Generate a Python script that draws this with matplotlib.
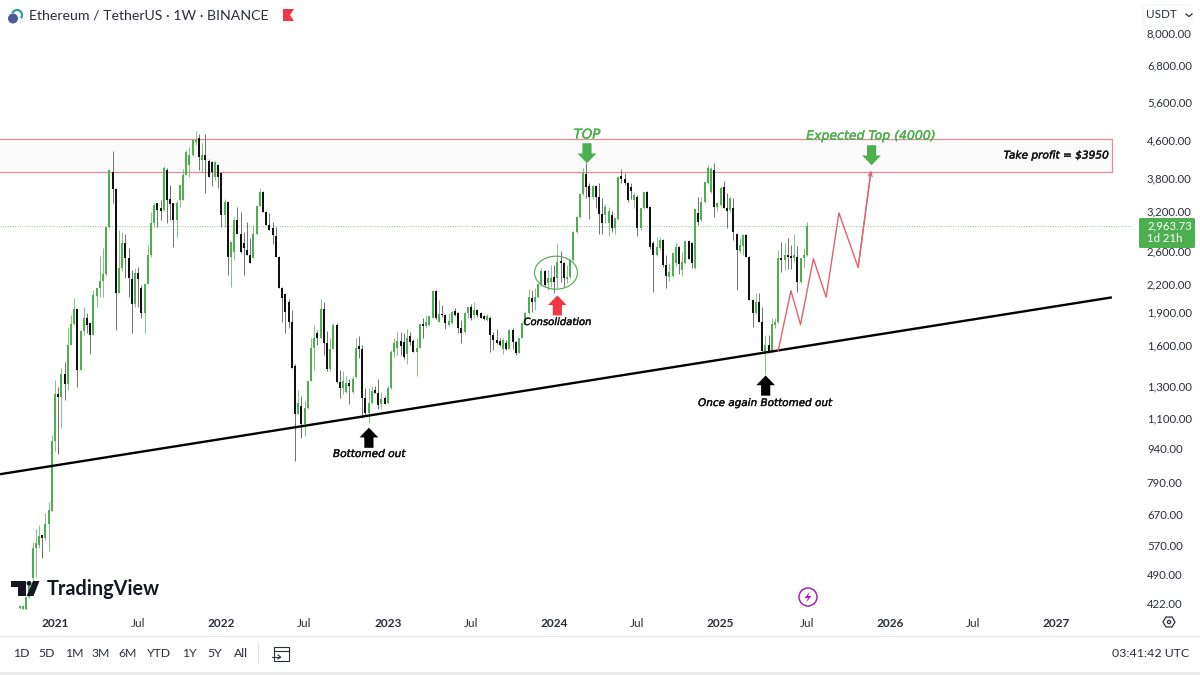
import matplotlib
matplotlib.use('Agg')
import matplotlib.pyplot as plt
import matplotlib.patheffects as pe
from matplotlib.patches import Rectangle, Circle, Ellipse, Polygon, FancyBboxPatch, Arc
from matplotlib.ticker import NullLocator

UI_FONT = 'Lato'
GREEN = '#4caf50'
RED = '#f23645'
TEXT = '#2a2e39'

# weekly candles
opens = [
    413, 411, 411, 437, 482, 562, 570, 603, 591, 638,
    682, 978, 1247, 1228, 1383, 1307, 1606, 1781, 1924, 1412,
    1718, 1846, 1790, 1683, 2058, 2145, 2224, 2306, 2939, 3904,
    3575, 2090, 2378, 2706, 2504, 2246, 1975, 2318, 2145, 1885,
    2190, 2543, 3000, 3326, 3241, 3208, 3944, 3395, 3326, 3046,
    3378, 3378, 3843, 4047, 4262, 4558, 4650, 4153, 4262, 4132,
    4110, 3804, 4047, 3884, 3126, 3343, 2517, 2583, 3046, 2835,
    2706, 2610, 2543, 2504, 2835, 3275, 3520, 3175, 2969, 2923,
    2805, 2517, 2145, 2080, 1995, 1800, 1441, 1125, 1172, 1068,
    1160, 1334, 1581, 1700, 1657, 1924, 1615, 1419, 1573, 1772,
    1327, 1286, 1260, 1320, 1260, 1355, 1590, 1573, 1221, 1130,
    1191, 1273, 1254, 1185, 1221, 1191, 1286, 1549, 1581, 1632,
    1624, 1533, 1674, 1632, 1549, 1581, 1781, 1763, 1772, 1846,
    2112, 1800, 1880, 1866, 1772, 1790, 1905, 1885, 1745, 1709,
    1885, 1944, 1866, 1914, 1885, 1856, 1818, 1846, 1683, 1640,
    1632, 1573, 1615, 1573, 1727, 1624, 1541, 1665, 1790, 1885,
    2037, 1995, 2048, 2178, 2342, 2200, 2212, 2270, 2258, 2465,
    2440, 2246, 2270, 2478, 2864, 3094, 3484, 3863, 3632, 3430,
    3632, 3430, 3142, 3126, 3000, 3126, 2923, 3061, 3823, 3765,
    3688, 3613, 3378, 3430, 2923, 3240, 3520, 3258, 2706, 2543,
    2637, 2748, 2415, 2270, 2282, 2440, 2650, 2354, 2440, 2734,
    2706, 2378, 3159, 3046, 3343, 3688, 3522, 3944, 3259, 3292,
    3613, 3241, 3208, 3241, 2835, 2597, 2665, 2820, 2517, 2016,
    1885, 1995, 1800, 1541, 1606, 1549, 1772, 1800, 2504, 2478,
    2543, 2530, 2504, 2517, 2212, 2504, 2543,
]
highs = [
    419, 419, 437, 470, 579, 621, 635, 603, 675, 714,
    1009, 1341, 1293, 1426, 1464, 1754, 1866, 2037, 1924, 1730,
    1944, 1885, 1790, 2123, 2145, 2530, 2637, 2950, 3964, 4351,
    3600, 2893, 2864, 2835, 2637, 2354, 2378, 2390, 2178, 2190,
    2678, 3175, 3326, 3326, 3378, 4030, 3990, 3650, 3326, 3378,
    3650, 3964, 4373, 4440, 4630, 4824, 4750, 4535, 4750, 4180,
    4132, 4132, 4070, 3904, 3395, 3360, 2720, 3100, 3258, 3175,
    2864, 3015, 2776, 2969, 3290, 3600, 3540, 3200, 3159, 3015,
    2939, 2530, 2160, 2100, 2030, 1914, 1450, 1273, 1234, 1203,
    1334, 1665, 1772, 1727, 2026, 1995, 1718, 1657, 1790, 1790,
    1405, 1398, 1369, 1347, 1369, 1657, 1674, 1598, 1286, 1286,
    1300, 1300, 1347, 1260, 1234, 1300, 1560, 1665, 1709, 1709,
    1700, 1736, 1709, 1650, 1665, 1790, 1846, 1866, 1856, 2123,
    2123, 2016, 1965, 1880, 1885, 1905, 1935, 1895, 1818, 1895,
    1950, 1975, 2000, 1930, 1900, 1870, 1875, 1860, 1709, 1736,
    1665, 1657, 1640, 1740, 1745, 1635, 1665, 1800, 1895, 2134,
    2123, 2145, 2190, 2378, 2360, 2354, 2415, 2415, 2706, 2597,
    2460, 2415, 2490, 2880, 3110, 3500, 3984, 4089, 3688, 3650,
    3650, 3688, 3412, 3309, 3258, 3190, 3080, 3815, 3964, 3884,
    3720, 3700, 3502, 3466, 3240, 3530, 3540, 3275, 2735, 2791,
    2791, 2770, 2543, 2440, 2580, 2720, 2670, 2583, 2740, 2745,
    2720, 3230, 3430, 3430, 3720, 4047, 4010, 4089, 3343, 3632,
    3726, 3502, 3430, 3412, 2850, 2776, 2835, 2835, 2530, 2030,
    2090, 2090, 1944, 1683, 1683, 1846, 1846, 2610, 2720, 2706,
    2776, 2678, 2835, 2665, 2510, 2637, 3015,
]
lows = [
    411, 409, 409, 435, 477, 484, 562, 534, 585, 553,
    682, 929, 915, 1046, 1209, 1273, 1598, 1772, 1293, 1405,
    1683, 1700, 1533, 1683, 1944, 2048, 2048, 2290, 2930, 3326,
    1727, 2090, 2350, 2258, 2048, 1700, 1950, 1944, 1846, 1700,
    2190, 2520, 2939, 2939, 3046, 3200, 3000, 3046, 2650, 2791,
    3259, 3378, 3843, 3804, 4240, 4500, 3944, 3904, 3502, 3804,
    3632, 3760, 3594, 2939, 2939, 2294, 2155, 2478, 2835, 2570,
    2294, 2543, 2440, 2504, 2820, 3275, 3175, 2969, 2893, 2692,
    2517, 2145, 1800, 1700, 1750, 1420, 883, 1120, 994, 1004,
    1150, 1330, 1405, 1600, 1650, 1518, 1400, 1400, 1570, 1320,
    1221, 1247, 1250, 1185, 1250, 1350, 1500, 1102, 1113, 1074,
    1180, 1250, 1154, 1154, 1180, 1185, 1280, 1503, 1518, 1518,
    1487, 1456, 1600, 1549, 1369, 1575, 1665, 1750, 1765, 1840,
    1828, 1800, 1850, 1736, 1763, 1785, 1856, 1700, 1615, 1705,
    1846, 1818, 1837, 1850, 1840, 1820, 1810, 1549, 1565, 1610,
    1590, 1533, 1565, 1570, 1573, 1525, 1535, 1660, 1785, 1880,
    1895, 1914, 2040, 2170, 2155, 2123, 2160, 2100, 2145, 2212,
    2166, 2200, 2265, 2470, 2850, 3080, 3470, 3412, 3061, 3400,
    3240, 2835, 2835, 3000, 2805, 2864, 2835, 3050, 3700, 3650,
    3343, 3400, 3250, 2805, 2900, 3230, 3240, 2623, 2102, 2530,
    2620, 2400, 2145, 2230, 2270, 2410, 2306, 2282, 2430, 2490,
    2378, 2370, 2969, 3040, 3335, 3680, 3500, 3094, 3200, 3280,
    3240, 2923, 3180, 2748, 2123, 2570, 2543, 2517, 2016, 1754,
    1880, 1800, 1557, 1383, 1540, 1540, 1745, 1790, 2330, 2354,
    2366, 2366, 2453, 2102, 2200, 2378, 2530,
]
closes = [
    417, 417, 437, 465, 562, 576, 600, 591, 638, 686,
    978, 1247, 1228, 1383, 1307, 1606, 1781, 1924, 1412, 1718,
    1846, 1772, 1683, 2069, 2145, 2224, 2306, 2939, 3944, 3575,
    2090, 2378, 2706, 2504, 2258, 1975, 2318, 2246, 1885, 2190,
    2543, 3000, 3292, 3208, 3192, 3984, 3378, 3309, 3046, 3326,
    3650, 3843, 4328, 4262, 4605, 4605, 4218, 4262, 4153, 3804,
    3904, 4110, 3804, 3126, 3343, 2517, 2720, 3046, 2835, 2583,
    2637, 2543, 2440, 2835, 3275, 3520, 3175, 2969, 2893, 2820,
    2517, 2145, 2037, 1895, 1800, 1426, 1125, 1191, 1068, 1160,
    1334, 1581, 1665, 1657, 1924, 1615, 1419, 1573, 1772, 1327,
    1286, 1330, 1320, 1300, 1347, 1581, 1573, 1221, 1130, 1191,
    1267, 1254, 1178, 1215, 1185, 1286, 1549, 1615, 1632, 1590,
    1503, 1665, 1624, 1549, 1581, 1781, 1763, 1800, 1856, 2112,
    1846, 1880, 1866, 1790, 1809, 1895, 1866, 1745, 1700, 1885,
    1944, 1846, 1914, 1866, 1846, 1828, 1856, 1683, 1640, 1615,
    1606, 1640, 1573, 1727, 1624, 1541, 1665, 1790, 1885, 2048,
    1995, 2048, 2190, 2342, 2178, 2258, 2258, 2212, 2453, 2440,
    2258, 2270, 2478, 2864, 3094, 3484, 3884, 3613, 3430, 3632,
    3430, 3142, 3000, 3258, 3190, 2923, 3080, 3804, 3765, 3688,
    3378, 3538, 3466, 2923, 3240, 3520, 3240, 2650, 2543, 2650,
    2748, 2415, 2282, 2330, 2570, 2650, 2427, 2453, 2734, 2490,
    2440, 3225, 3015, 3343, 3707, 3984, 3964, 3259, 3326, 3594,
    3240, 3192, 3412, 2864, 2610, 2678, 2820, 2517, 2016, 1885,
    1995, 1800, 1557, 1606, 1549, 1781, 1800, 2504, 2478, 2543,
    2517, 2504, 2543, 2212, 2504, 2543, 2963.73,
]

price_ticks = [8000, 6800, 5600, 4600, 3800, 3200, 2600, 2200, 1900,
               1600, 1300, 1100, 940, 790, 670, 570, 490, 422]
time_ticks = [11, 37, 63, 89, 115, 141, 167, 193, 219, 246, 272, 298, 324]
time_labels = ['2021', 'Jul', '2022', 'Jul', '2023', 'Jul', '2024', 'Jul',
               '2025', 'Jul', '2026', 'Jul', '2027']

# drawings on the chart
zone_top, zone_bottom = 4629, 3904
zone_end = 341.3
trend_x = [-6.2, 341.3]
trend_y = [823, 2048]
path_x = [237, 241, 244, 248, 252, 256, 262, 266]
path_y = [1555, 2120, 1780, 2500, 2050, 3165, 2390, 3910]
buttons = ['1D', '5D', '1M', '3M', '6M', 'YTD', '1Y', '5Y', 'All']
button_x = [21, 47, 74, 101, 128, 159, 189, 215, 241]

fig = plt.figure(figsize=(12, 6.75), dpi=100, facecolor='white')
ax = fig.add_axes([0, 65 / 675, 1133 / 1200, 610 / 675])
ax.set_yscale('log')
ax.set_xlim(-6.19, 347.9)
ax.set_ylim(408.7, 9486)
for s in ax.spines.values():
    s.set_visible(False)

# left side runs past the axes so only the right edge of the box shows
ax.add_patch(Rectangle((-10, zone_bottom), zone_end + 10, zone_top - zone_bottom,
                       facecolor='#fafafa', edgecolor='#dd8f95', lw=0.9, zorder=1))
ax.axhline(closes[-1], color='#8fc793', lw=0.7, ls=(0, (1, 1.5)), zorder=1)

# candles
for i in range(len(opens)):
    up = closes[i] >= opens[i]
    ax.vlines(i, lows[i], highs[i], color='#82c285' if up else '#707070', lw=0.7, zorder=2)
    ax.bar(i, abs(closes[i] - opens[i]), bottom=min(opens[i], closes[i]), width=0.62,
           color=GREEN if up else '#111111', lw=0, zorder=3)

ax.plot(trend_x, trend_y, color='black', lw=1.7, zorder=4, solid_capstyle='butt')
ax.plot(path_x, path_y, color='#e0626f', lw=1.0, zorder=4)
ax.annotate('', xy=(path_x[-1], path_y[-1] * 1.005), xytext=(path_x[-2], path_y[-2]),
            arrowprops=dict(arrowstyle='->', color='#e0626f', lw=0.9, shrinkA=0, shrinkB=0,
                            mutation_scale=7), zorder=4)

# block arrows: tip, tail
arrows = [(177.25, 4089, 4534, GREEN), (266.2, 4047, 4487, GREEN), (168, 2069, 1866, RED),
          (109.1, 1046, 943, 'black'), (233.1, 1369, 1234, 'black')]
for ax_x, tip, tail, col in arrows:
    ax.annotate('', xy=(ax_x, tip), xytext=(ax_x, tail),
                arrowprops=dict(width=6.6, headwidth=13.5, headlength=7, color=col, lw=0, shrink=0),
                zorder=5)

ax.set_yticks(price_ticks)
ax.set_yticklabels([f'{p:,.2f}' for p in price_ticks])
ax.yaxis.set_minor_locator(NullLocator())
ax.yaxis.tick_right()
ax.tick_params(axis='y', length=0, pad=10, labelsize=8.2, labelcolor=TEXT)
ax.set_xticks(time_ticks)
ax.set_xticklabels(time_labels)
ax.xaxis.set_minor_locator(NullLocator())
ax.tick_params(axis='x', length=0, pad=5.5, labelsize=8.6, labelcolor=TEXT)
for lab in ax.get_xticklabels() + ax.get_yticklabels():
    lab.set_fontfamily(UI_FONT)
for lab in ax.get_xticklabels():
    if lab.get_text() != 'Jul':
        lab.set_fontweight('bold')

# overlay in pixel coordinates for the app chrome and the notes
ui = fig.add_axes([0, 0, 1, 1])
ui.set_xlim(0, 1200)
ui.set_ylim(675, 0)
ui.axis('off')
ui.patch.set_alpha(0)

ui.add_patch(Ellipse((556, 272.7), 43, 33, fill=False, edgecolor='#5cae60', lw=0.9))


def note(x, y, s, size=7.5, color='#111111', ha='center'):
    t = ui.text(x, y, s, fontsize=size, color=color, ha=ha, va='center', style='italic',
                family='DejaVu Sans')
    t.set_path_effects([pe.withStroke(linewidth=0.3, foreground=color)])


note(587, 135, 'TOP', size=9.6, color=GREEN)
note(871, 136, 'Expected Top (4000)', size=9.0, color=GREEN)
note(1108, 155.5, 'Take profit = $3950', size=7.6, ha='right')
note(557.5, 322, 'Consolidation', size=7.2)
note(369, 454, 'Bottomed out', size=7.6)
note(765, 403, 'Once again Bottomed out', size=7.5)

# header
ui.add_patch(Circle((13, 18.5), 5, color='#4c5a9c', lw=0))
ui.add_patch(Arc((17, 15), 10, 10, theta1=200, theta2=40, color='#2ea39a', lw=1.6))
ui.text(29, 15.5, 'Ethereum / TetherUS · 1W · BINANCE', fontsize=10.2, color=TEXT,
        family=UI_FONT, va='center')
ui.add_patch(Polygon([(283, 9), (294, 9), (290, 15), (294, 21), (283, 21)], color=RED, lw=0))

# currency button
ui.add_patch(FancyBboxPatch((1143, 5), 49, 21, boxstyle='round,pad=0,rounding_size=3',
                            facecolor='white', edgecolor='#f0f3fa', lw=0.8))
ui.text(1146, 15, 'USDT', fontsize=8.4, color=TEXT, family=UI_FONT, va='center')
ui.plot([1186, 1189, 1192], [14, 16.5, 14], color=TEXT, lw=0.9)

# last price label
ui.add_patch(FancyBboxPatch((1139, 218), 56, 30, boxstyle='round,pad=0,rounding_size=1.5',
                            facecolor=GREEN, edgecolor='none'))
ui.text(1147, 226, f'{closes[-1]:,.2f}', fontsize=8.2, color='white', family=UI_FONT, va='center')
ui.text(1147, 239, '1d 21h', fontsize=8.2, color='white', family=UI_FONT, va='center')

# TradingView logo
ui.add_patch(Polygon([(11, 581), (26, 581), (26, 596), (18, 596), (18, 586.5), (11, 586.5)], color='#131722', lw=0))
ui.add_patch(Circle((29, 583.3), 2.4, color='#131722', lw=0))
ui.add_patch(Polygon([(33, 581), (39.5, 581), (33.5, 596), (26.5, 596)], color='#131722', lw=0))
ui.text(47, 589, 'TradingView', fontsize=14.3, color='#131722', family='Lato', fontweight='bold', va='center')

# lightning badge
ui.add_patch(Circle((808, 597), 9, fill=False, edgecolor='#9c27b0', lw=1.1))
ui.add_patch(Polygon([(810, 591.5), (804.5, 598), (808, 598), (806, 602.5), (811.5, 596), (808, 596)],
                     color='#9c27b0', lw=0))

# settings icon
ui.add_patch(Polygon([(1163, 622), (1166, 617), (1172, 617), (1175, 622), (1172, 627), (1166, 627)],
                     fill=False, edgecolor=TEXT, lw=0.9))
ui.add_patch(Circle((1169, 622), 1.6, fill=False, edgecolor=TEXT, lw=0.9))

# bottom bar
ui.plot([0, 1200], [635.5, 635.5], color='#e6e8ee', lw=0.8)
for bx, b in zip(button_x, buttons):
    ui.text(bx, 653.5, b, fontsize=8.8, color=TEXT, family=UI_FONT, ha='center', va='center')
ui.plot([258, 258], [643, 663], color='#e0e3eb', lw=0.8)
ui.add_patch(Rectangle((274, 647), 15, 14, fill=False, edgecolor=TEXT, lw=0.8))
ui.plot([274, 289], [651, 651], color=TEXT, lw=0.8)
ui.plot([272, 280], [657, 657], color=TEXT, lw=0.8)
ui.plot([278, 280.5, 278], [655, 657, 659], color=TEXT, lw=0.8)
ui.text(1189, 653.5, '03:41:42 UTC', fontsize=8.9, color=TEXT, family=UI_FONT, ha='right', va='center')
ui.add_patch(Rectangle((0, 672), 1200, 3, facecolor='#ececec', edgecolor='none'))

fig.savefig('out.png', dpi=100)
